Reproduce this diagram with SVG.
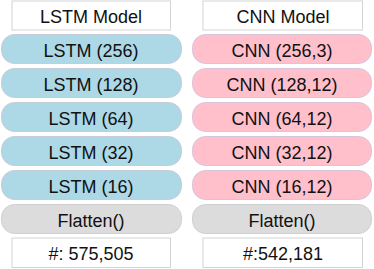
<svg xmlns="http://www.w3.org/2000/svg" width="374" height="269" viewBox="0 0 374 269">
<style>
text{font-family:"Liberation Sans",Arial,sans-serif;font-size:18px;fill:#111;text-anchor:middle}
.box{fill:#fff;stroke:#d4d4d4;stroke-width:1}
.lstm{fill:#add8e6;stroke:#c8ccd8;stroke-width:1}
.cnn{fill:#ffc0cb;stroke:#d8c4dc;stroke-width:1}
.flat{fill:#dcdcdc;stroke:#d0d0d0;stroke-width:1}
</style>
<g id="lstm-header"><rect class="box" x="12" y="1" width="158.5" height="29"/><text x="91" y="23">LSTM Model</text></g>
<g id="lstm-256"><rect class="lstm" x="1.5" y="34.5" width="180" height="29" rx="13"/><text x="91" y="57">LSTM (256)</text></g>
<g id="lstm-128"><rect class="lstm" x="1.5" y="68.5" width="180" height="29" rx="13"/><text x="91" y="91">LSTM (128)</text></g>
<g id="lstm-64"><rect class="lstm" x="1.5" y="102.5" width="180" height="29" rx="13"/><text x="91" y="125">LSTM (64)</text></g>
<g id="lstm-32"><rect class="lstm" x="1.5" y="136.5" width="180" height="29" rx="13"/><text x="91" y="159">LSTM (32)</text></g>
<g id="lstm-16"><rect class="lstm" x="1.5" y="170.5" width="180" height="29" rx="13"/><text x="91" y="193">LSTM (16)</text></g>
<g id="lstm-flatten"><rect class="flat" x="1.5" y="204.5" width="180" height="29" rx="13"/><text x="91" y="227">Flatten()</text></g>
<g id="lstm-params"><rect class="box" x="12" y="238" width="158.5" height="29.5"/><text x="91" y="260">#: 575,505</text></g>
<g id="cnn-header"><rect class="box" x="203" y="1" width="159.5" height="29"/><text x="283" y="23">CNN Model</text></g>
<g id="cnn-256"><rect class="cnn" x="192.5" y="34.5" width="179" height="29" rx="13"/><text x="282" y="57">CNN (256,3)</text></g>
<g id="cnn-128"><rect class="cnn" x="192.5" y="68.5" width="179" height="29" rx="13"/><text x="282" y="91">CNN (128,12)</text></g>
<g id="cnn-64"><rect class="cnn" x="192.5" y="102.5" width="179" height="29" rx="13"/><text x="282" y="125">CNN (64,12)</text></g>
<g id="cnn-32"><rect class="cnn" x="192.5" y="136.5" width="179" height="29" rx="13"/><text x="282" y="159">CNN (32,12)</text></g>
<g id="cnn-16"><rect class="cnn" x="192.5" y="170.5" width="179" height="29" rx="13"/><text x="282" y="193">CNN (16,12)</text></g>
<g id="cnn-flatten"><rect class="flat" x="192.5" y="204.5" width="179" height="29" rx="13"/><text x="282" y="227">Flatten()</text></g>
<g id="cnn-params"><rect class="box" x="203" y="238" width="159.5" height="29.5"/><text x="283" y="260">#:542,181</text></g>
<g id="connectors"></g>
</svg>
